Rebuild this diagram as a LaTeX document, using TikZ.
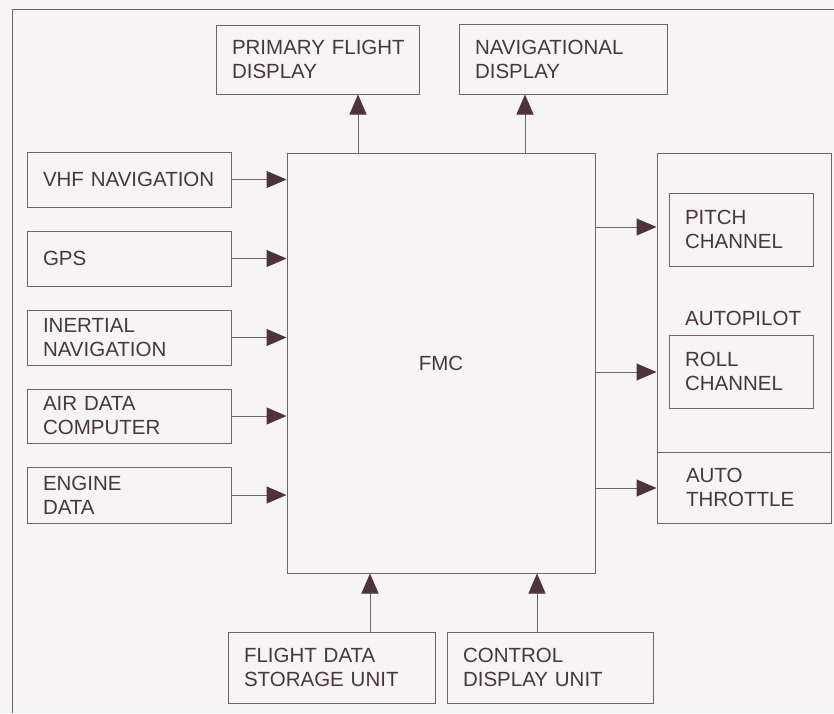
\documentclass[tikz,border=0pt]{standalone}
\usepackage{fontspec}
\setmainfont{Liberation Sans}
\usetikzlibrary{arrows.meta}
\definecolor{paper}{RGB}{246,244,244}
\definecolor{ink}{RGB}{112,98,104}
\definecolor{txt}{RGB}{70,56,62}
\definecolor{tip}{RGB}{78,50,60}
\hbadness=10000 \hfuzz=20pt
\begin{document}
\begin{tikzpicture}[x=1pt,y=-1pt,
  box/.style={draw=ink, line width=1pt, inner xsep=16pt, inner ysep=0pt, align=left, text=txt,
    font=\fontsize{20.5}{24}\selectfont},
  lbl/.style={inner sep=0pt, align=left, text=txt, font=\fontsize{20.5}{24}\selectfont},
  conn/.style={draw=ink, line width=1pt, -{Triangle[length=20pt,width=17pt,color=tip]}},
  frame/.style={draw=ink, line width=1pt}]
\fill[paper] (0,0) rectangle (834,713);
\useasboundingbox (0,0) rectangle (834,713);
\draw[frame] (12,713) -- (12,9) -- (834,9);
% top displays
\node[box, minimum width=203pt, minimum height=69pt, text width=171pt] (pfd) at (317.5,59.5) {\mbox{PRIMARY FLIGHT}\\DISPLAY};
\node[box, minimum width=208pt, minimum height=70pt, text width=176pt] (nav) at (563,59) {NAVIGATIONAL\\DISPLAY};
% FMC
\node[box, minimum width=308pt, minimum height=420pt, inner xsep=0pt] (fmc) at (441,363) {FMC};
% inputs
\node[box, minimum width=204pt, minimum height=55pt, text width=172pt] (vhf) at (129,179.5) {VHF NAVIGATION};
\node[box, minimum width=204pt, minimum height=55pt, text width=172pt] (gps) at (129,258.5) {GPS};
\node[box, minimum width=204pt, minimum height=55pt, text width=172pt] (ins) at (129,337.5) {INERTIAL\\NAVIGATION};
\node[box, minimum width=204pt, minimum height=54pt, text width=172pt] (adc) at (129,416) {AIR DATA\\COMPUTER};
\node[box, minimum width=204pt, minimum height=56pt, text width=172pt] (eng) at (129,495) {ENGINE\\DATA};
% bottom units
\node[box, minimum width=207pt, minimum height=71pt, text width=175pt] (fdsu) at (331.5,667.5) {FLIGHT DATA\\STORAGE UNIT};
\node[box, minimum width=206pt, minimum height=71pt, text width=174pt] (cdu) at (550,667.5) {CONTROL\\DISPLAY UNIT};
% autopilot group
\node[draw=ink, line width=1pt, minimum width=174pt, minimum height=370pt, inner sep=0pt] (ap) at (744,338) {};
\coordinate (divl) at (657,452);
\coordinate (divr) at (831,452);
\draw[frame] (divl) -- (divr);
\node[box, minimum width=144pt, minimum height=73pt, text width=112pt] (pitch) at (741,229.5) {PITCH\\CHANNEL};
\node[lbl, anchor=west] (aplbl) at (685,318.5) {AUTOPILOT};
\node[box, minimum width=144pt, minimum height=73pt, text width=112pt] (roll) at (741,371.5) {ROLL\\CHANNEL};
\node[box, draw=none, minimum width=174pt, minimum height=71pt, text width=116pt, inner xsep=29pt] (thr) at (744,487.5) {AUTO\\THROTTLE};
% anchor coordinates for vertical connectors
\coordinate (xpfd) at (358,0);
\coordinate (xnav) at (525,0);
\coordinate (xfdsu) at (370,0);
\coordinate (xcdu) at (537,0);
\coordinate (ypitch) at (0,227);
\coordinate (yroll) at (0,372);
\coordinate (ythr) at (0,488);
% input connectors
\draw[conn] (vhf.east) -- (vhf.east -| fmc.west);
\draw[conn] (gps.east) -- (gps.east -| fmc.west);
\draw[conn] (ins.east) -- (ins.east -| fmc.west);
\draw[conn] (adc.east) -- (adc.east -| fmc.west);
\draw[conn] (eng.east) -- (eng.east -| fmc.west);
% outputs up
\draw[conn] (fmc.north -| xpfd) -- (pfd.south -| xpfd);
\draw[conn] (fmc.north -| xnav) -- (nav.south -| xnav);
% inputs from bottom
\draw[conn] (fdsu.north -| xfdsu) -- (fmc.south -| xfdsu);
\draw[conn] (cdu.north -| xcdu) -- (fmc.south -| xcdu);
% outputs right
\draw[conn] (fmc.east |- ypitch) -- (ap.west |- ypitch);
\draw[conn] (fmc.east |- yroll) -- (ap.west |- yroll);
\draw[conn] (fmc.east |- ythr) -- (ap.west |- ythr);
\end{tikzpicture}
\end{document}
